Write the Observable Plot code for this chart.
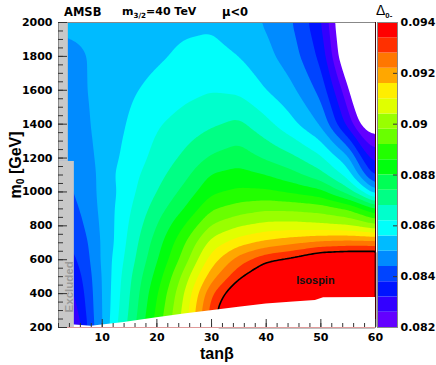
<!DOCTYPE html>
<html><head><meta charset="utf-8">
<script src="https://cdn.jsdelivr.net/npm/d3@7"></script>
<script src="https://cdn.jsdelivr.net/npm/@observablehq/plot@0.6"></script>
<style>
html,body{margin:0;padding:0;background:#fff;}
#wrap{position:relative;width:436px;height:365px;overflow:hidden;font-family:"Liberation Sans",Arial,sans-serif;font-weight:bold;color:#000;}
#wrap svg{position:absolute;top:0;}
.lbl{position:absolute;white-space:nowrap;font-weight:bold;line-height:12px;}
.lbl sub{font-size:65%;vertical-align:-3px;line-height:0;}
</style></head><body>
<div id="wrap"></div>
<script>
// ---- data ----
const tanB = [2, 4, 6, 8, 10, 12, 15, 20, 25, 30, 35, 40, 45, 50, 55, 58, 60];
const m0 = [200, 300, 400, 500, 600, 700, 800, 900, 1000, 1100, 1200, 1400, 1600, 1800, 2000];
// Delta_0- values, one row per m0, one column per tanB
const delta = [
  [0.08206,0.08230,0.08308,0.08422,0.08494,0.08596,0.08698,0.08890,0.09070,0.09298,0.09460,0.09520,0.09550,0.09550,0.09550,0.09550,0.09550],
  [0.08248,0.08272,0.08332,0.08428,0.08497,0.08584,0.08686,0.08872,0.09058,0.09310,0.09460,0.09520,0.09538,0.09538,0.09538,0.09538,0.09538],
  [0.08278,0.08302,0.08350,0.08431,0.08500,0.08578,0.08677,0.08854,0.09040,0.09274,0.09412,0.09490,0.09520,0.09520,0.09520,0.09520,0.09520],
  [0.08308,0.08332,0.08368,0.08437,0.08503,0.08572,0.08668,0.08824,0.09004,0.09196,0.09328,0.09412,0.09448,0.09460,0.09460,0.09460,0.09460],
  [0.08332,0.08356,0.08392,0.08446,0.08512,0.08566,0.08650,0.08794,0.08950,0.09130,0.09250,0.09331,0.09364,0.09418,0.09430,0.09430,0.09430],
  [0.08362,0.08386,0.08410,0.08452,0.08512,0.08554,0.08638,0.08770,0.08914,0.09064,0.09136,0.09178,0.09208,0.09238,0.09250,0.09250,0.09250],
  [0.08380,0.08404,0.08428,0.08464,0.08515,0.08554,0.08626,0.08740,0.08860,0.08986,0.09034,0.09061,0.09064,0.09052,0.09040,0.09016,0.08992],
  [0.08398,0.08422,0.08440,0.08476,0.08518,0.08554,0.08614,0.08710,0.08800,0.08914,0.08950,0.08971,0.08968,0.08956,0.08920,0.08860,0.08800],
  [0.08410,0.08434,0.08452,0.08482,0.08521,0.08548,0.08602,0.08680,0.08758,0.08848,0.08872,0.08872,0.08848,0.08818,0.08710,0.08608,0.08500],
  [0.08419,0.08443,0.08458,0.08485,0.08518,0.08557,0.08596,0.08659,0.08722,0.08806,0.08824,0.08800,0.08758,0.08701,0.08596,0.08440,0.08350],
  [0.08428,0.08452,0.08467,0.08491,0.08521,0.08548,0.08581,0.08641,0.08692,0.08749,0.08773,0.08731,0.08692,0.08632,0.08518,0.08350,0.08290],
  [0.08434,0.08458,0.08476,0.08501,0.08530,0.08539,0.08566,0.08614,0.08644,0.08671,0.08695,0.08638,0.08572,0.08494,0.08296,0.08164,0.08152],
  [0.08440,0.08464,0.08488,0.08506,0.08530,0.08533,0.08551,0.08578,0.08602,0.08617,0.08608,0.08560,0.08509,0.08422,0.08212,0.08050,0.07960],
  [0.08446,0.08470,0.08491,0.08506,0.08524,0.08524,0.08533,0.08551,0.08572,0.08581,0.08560,0.08518,0.08464,0.08365,0.08110,0.07990,0.07900],
  [0.08530,0.08530,0.08522,0.08521,0.08524,0.08527,0.08530,0.08539,0.08548,0.08551,0.08524,0.08494,0.08440,0.08329,0.08080,0.07960,0.07840]
];
const isospinLevel = 0.0934;
// lower edge of the computed region (white below)
const edgeT = [2, 5, 8, 14, 20, 25, 31, 35, 40, 45, 49, 50.5, 60];
const edgeM = [215, 215, 208, 230, 257, 280, 303, 320, 338, 350, 360, 376, 377];
// grey excluded strip
const exclT = [3.8, 4.9];
const exclLo = [1180, 200];
const exclHi = [2000, 1180];
// axis ticks
const xTicks = [10, 20, 30, 40, 50, 60];
const yTicks = [200, 400, 600, 800, 1000, 1200, 1400, 1600, 1800, 2000];
const zTicks = [0.082, 0.084, 0.086, 0.088, 0.09, 0.092, 0.094];
const zMin = 0.082, zMax = 0.094, nLevels = 20;
const palette = ["#6300ff","#3300ff","#0014ff","#0044ff","#008bff","#00bbff","#00fffb","#00ffcc","#00ff85","#00ff55",
                 "#00ff0e","#22ff00","#69ff00","#99ff00","#e0ff00","#ffee00","#ffa700","#ff7700","#ff3000","#ff0000"];

// ---- build ----
// bilinear lookup in the grid (used by the contour mark to sample the field)
function field(t, m) {
  const j = Math.max(0, Math.min(tanB.length - 2, d3.bisectRight(tanB, t) - 1));
  const i = Math.max(0, Math.min(m0.length - 2, d3.bisectRight(m0, m) - 1));
  const u = Math.max(0, Math.min(1, (t - tanB[j]) / (tanB[j + 1] - tanB[j])));
  const w = Math.max(0, Math.min(1, (m - m0[i]) / (m0[i + 1] - m0[i])));
  const a = delta[i][j], b = delta[i][j + 1], c = delta[i + 1][j], d = delta[i + 1][j + 1];
  return (a * (1 - u) + b * u) * (1 - w) + (c * (1 - u) + d * u) * w;
}
const step = (zMax - zMin) / nLevels;
const thresholds = d3.range(nLevels).map(i => zMin + i * step);
const excl = exclT.map((t, i) => ({t0: tanB[0], t1: t, lo: exclLo[i], hi: exclHi[i]}));
const edge = edgeT.map((t, i) => ({t, m: edgeM[i]}));
const xMinor = d3.range(2, 61, 2);
const yMinor = d3.range(200, 2001, 50);
const ext = {x1: tanB[0], x2: tanB[tanB.length - 1], y1: m0[0], y2: m0[m0.length - 1]};

const font = {fontFamily: "'Liberation Sans', Arial, sans-serif", fontWeight: "bold", fontSize: "13px", background: "transparent"};
const numFont = "'DejaVu Sans', sans-serif";

const main = Plot.plot({
  width: 436, height: 365,
  marginLeft: 58, marginRight: 61, marginTop: 22, marginBottom: 38,
  x: {domain: [2, 60]},
  y: {domain: [200, 2000]},
  color: {type: "threshold", domain: thresholds.slice(1), range: palette},
  style: font,
  marks: [
    Plot.contour({...ext, fill: field, thresholds, blur: 2}),
    Plot.contour({...ext, value: field, thresholds: [isospinLevel], blur: 2, fill: "none", stroke: "black", strokeWidth: 1.6}),
    Plot.areaY(edge, {x: "t", y1: m0[0], y2: "m", fill: "white"}),
    Plot.rect(excl, {x1: "t0", x2: "t1", y1: "lo", y2: "hi", fill: "#c8c8c8"}),
    Plot.text(["Isospin"], {x: 49, y: 480, text: d => d, fontSize: 11, fontWeight: "bold", fill: "#111"}),
    Plot.text(["Excluded"], {x: 3.9, y: 440, text: d => d, rotate: -90, fontSize: 11.5, fontWeight: "bold", fill: "#9a9a9a"}),
    Plot.frame({stroke: "#888"}),
    Plot.ruleY([m0[0]], {stroke: "#e09a9a"}),
    Plot.ruleX([tanB[tanB.length - 1]], {stroke: "#400"}),
    Plot.axisX({ticks: xTicks, tickSize: 8, dy: -8, fill: "none", label: null, stroke: "#333"}),
    Plot.axisX({ticks: xMinor, tickSize: 4, dy: -4, fill: "none", label: null, stroke: "#333"}),
    Plot.axisX({ticks: xTicks, tickSize: 0, tickPadding: 6, label: null, fontFamily: numFont, fontSize: 11, fontWeight: "bold", fill: "#000"}),
    Plot.axisY({ticks: yTicks, tickSize: 9, dx: 9, fill: "none", label: null, stroke: "#333"}),
    Plot.axisY({ticks: yMinor, tickSize: 5, dx: 5, fill: "none", label: null, stroke: "#333"}),
    Plot.axisY({ticks: yTicks, tickSize: 0, tickPadding: 6, label: null, tickFormat: d3.format("d"), fontFamily: numFont, fontSize: 11, fontWeight: "bold", fill: "#000"})
  ]
});
main.style.left = "0px";

const bins = thresholds.map(lo => ({lo, hi: Math.min(lo + step, zMax)}));
const bar = Plot.plot({
  width: 66, height: 365,
  marginLeft: 7, marginRight: 39, marginTop: 22, marginBottom: 38,
  y: {domain: [zMin, zMax]},
  color: {type: "threshold", domain: thresholds.slice(1), range: palette},
  style: font,
  marks: [
    Plot.rect(bins, {y1: "lo", y2: "hi", fill: "lo"}),
    Plot.axisY({anchor: "right", ticks: zTicks, tickSize: 5, dx: -5, fill: "none", label: null, stroke: "#333"}),
    Plot.axisY({anchor: "right", ticks: zTicks, tickSize: 0, tickPadding: 3, label: null, tickFormat: d => String(+d.toFixed(3)), fontFamily: numFont, fontSize: 11, fontWeight: "bold", fill: "#000"}),
    Plot.frame({stroke: "#888"})
  ]
});
bar.style.left = "370px";

const wrap = document.getElementById("wrap");
wrap.append(main, bar);

function label(html, css) {
  const d = document.createElement("div");
  d.className = "lbl";
  d.innerHTML = html;
  Object.assign(d.style, css);
  wrap.append(d);
  return d;
}
const hdr = {top: "6px", fontSize: "11.5px", fontFamily: numFont};
label("AMSB", {...hdr, left: "64px"});
label("m<sub>3/2</sub>=40 TeV", {...hdr, left: "122px", fontSize: "11px"});
label("&mu;&lt;0", {...hdr, left: "222px"});
label("<span style='font-weight:normal;font-size:14px'>&Delta;</span><sub>0-</sub>", {left: "376px", top: "4px", fontSize: "12px"});
label("tan&beta;", {left: "200px", top: "348px", fontSize: "16px"});
label("m<sub>0</sub> [GeV]", {left: "16px", top: "165px", fontSize: "16px", transform: "translate(-50%,-50%) rotate(-90deg)"});
</script>
</body></html>
